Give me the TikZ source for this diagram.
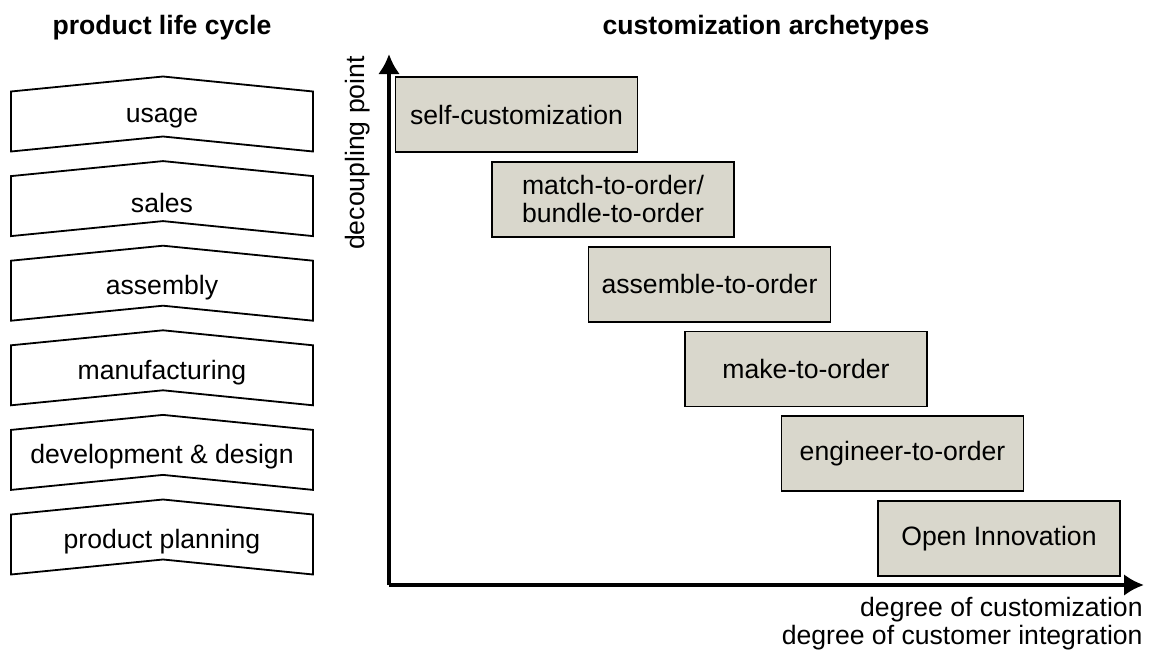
\documentclass[tikz,border=0pt]{standalone}
\usepackage{fontspec}
\setmainfont{Liberation Sans}
\usetikzlibrary{arrows.meta}

\definecolor{archfill}{RGB}{217,215,204}

\begin{document}
\begin{tikzpicture}[
        x=0.5pt, y=-0.5pt,
        >={Latex[length=10pt,width=11pt]},
        every node/.style={font=\fontsize{13.3}{14}\selectfont},
        phase/.style={draw, line width=0.9pt, fill=white},
        archetype/.style={draw, line width=0.9pt, fill=archfill,
                          minimum width=121pt, minimum height=37.5pt,
                          align=center, inner sep=0pt},
        heading/.style={font=\fontsize{13.3}{14}\selectfont\bfseries},
    ]
    \useasboundingbox (0,0) rectangle (1153,653);

    % headings
    \node[heading] (lifehead) at (162, 28) {product life cycle};
    \node[heading] (archhead) at (766, 28) {customization archetypes};

    % product life cycle chevrons
    \foreach \lbl [count=\i from 0] in {usage, sales, assembly, manufacturing,
                                      development \& design, product planning}
    {
        \pgfmathsetmacro{\t}{91.5 + 84.6*\i}
        \draw[phase] (11, \t) -- (163, \t-15) -- (313, \t)
                     -- (313, \t+60) -- (163, \t+45) -- (11, \t+60) -- cycle;
        \node (phase\i) at (162, \t+27) {\lbl};
    }

    % axes
    \coordinate (orig) at (389, 585);
    \coordinate (ytip) at (389, 54);
    \coordinate (xtip) at (1144, 585);
    \draw[->, line width=2pt] (orig) -- (ytip);
    \draw[->, line width=2pt] (orig) -- (xtip);
    \node[rotate=90] (ylabel) at (358, 153) {decoupling point};
    \node[anchor=north east, align=right, inner sep=0pt] (xlabel) at (1143, 597)
        {degree of customization\\degree of customer integration};

    % customization archetypes
    \foreach \lbl [count=\i from 0] in {self-customization,
                                      {match-to-order/\\bundle-to-order},
                                      assemble-to-order, make-to-order,
                                      engineer-to-order, Open Innovation}
        \node[archetype] (arch\i) at (516.5 + 96.5*\i, 114.5 + 84.8*\i) {\lbl};

\end{tikzpicture}
\end{document}
